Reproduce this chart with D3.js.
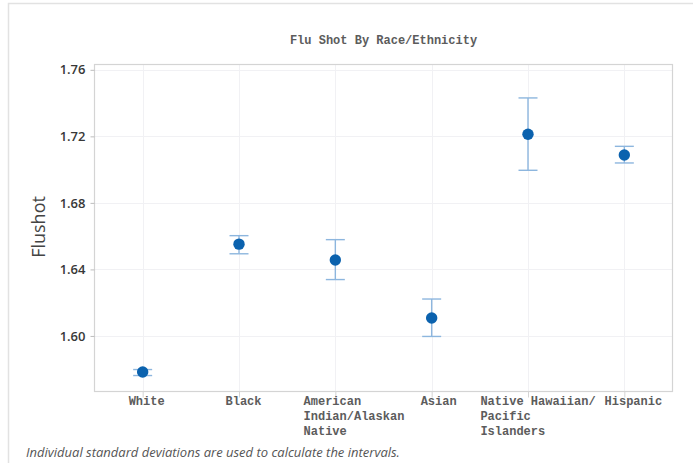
<!DOCTYPE html>
<html>
<head>
<meta charset="utf-8">
<script src="https://cdn.jsdelivr.net/npm/d3@7/dist/d3.min.js"></script>
<style>
  html, body { margin: 0; padding: 0; background: #fff; }
  svg { display: block; }
</style>
</head>
<body>
<svg id="chart" width="693" height="463"></svg>
<script>
// Group labels (one array of lines per group)
const categories = ["White", "Black", "American Indian/Alaskan Native", "Asian", "Native Hawaiian/ Pacific Islanders", "Hispanic"];
const labelLines = [["White"], ["Black"], ["American", "Indian/Alaskan", "Native"], ["Asian"], ["Native Hawaiian/", "Pacific", "Islanders"], ["Hispanic"]];
// Group means and interval bounds
const means = [1.5783, 1.6552, 1.6457, 1.6108, 1.7213, 1.7088];
const lower = [1.5762, 1.6494, 1.6339, 1.5997, 1.6996, 1.7040];
const upper = [1.5798, 1.6603, 1.6579, 1.6222, 1.7431, 1.7140];
const yTicks = [1.60, 1.64, 1.68, 1.72, 1.76];

const svg = d3.select("#chart");
const W = 693, H = 463;
const plotL = 94.5, plotR = 672.5, plotT = 64.5, plotB = 391.5;

// Outer frame (top and left edges)
svg.append("path")
  .attr("d", `M8.5,${H} L8.5,3.5 L${W},3.5`)
  .attr("fill", "none").attr("stroke", "#e2e2e2").attr("stroke-width", 1.5);

const x = d3.scalePoint().domain(categories).range([plotL, plotR]).padding(0.5);
const y = d3.scaleLinear().domain([1.5666, 1.7632]).range([plotB, plotT]);

// Gridlines
const grid = svg.append("g");
grid.selectAll("line.h").data(yTicks).join("line")
  .attr("x1", plotL).attr("x2", plotR)
  .attr("y1", d => Math.round(y(d)) + 0.5).attr("y2", d => Math.round(y(d)) + 0.5)
  .attr("stroke", "#f1f1f4").attr("stroke-width", 1);
grid.selectAll("line.v").data(categories).join("line")
  .attr("x1", d => Math.round(x(d)) + 0.5).attr("x2", d => Math.round(x(d)) + 0.5)
  .attr("y1", plotT).attr("y2", plotB)
  .attr("stroke", "#f1f1f4").attr("stroke-width", 1);

// Plot border
svg.append("rect")
  .attr("x", plotL).attr("y", plotT).attr("width", plotR - plotL).attr("height", plotB - plotT)
  .attr("fill", "none").attr("stroke", "#d4d4d4").attr("stroke-width", 1.2);

// Y axis
const yAxis = svg.append("g").attr("transform", `translate(${plotL},0)`)
  .call(d3.axisLeft(y).tickValues(yTicks).tickFormat(d3.format(".2f")).tickSize(4).tickPadding(5));
yAxis.select(".domain").remove();
yAxis.selectAll(".tick line").attr("stroke", "#bdbdbd");
yAxis.selectAll(".tick text")
  .attr("fill", "#383838").attr("font-family", "'Open Sans', sans-serif")
  .attr("font-size", 13).attr("font-weight", 600);

// X axis
const xAxis = svg.append("g").attr("transform", `translate(0,${plotB})`)
  .call(d3.axisBottom(x).tickSize(6).tickFormat(""));
xAxis.select(".domain").remove();
xAxis.selectAll(".tick line").attr("stroke", "#d4d4d4");

// Multi-line category labels: first line centred (with a small per-label nudge),
// following lines aligned to its start
const charW = 7.2;
const labelNudge = [4, 4.5, -3, 7, 10, 9];
svg.append("g").selectAll("text").data(categories).join("text")
  .attr("font-family", "'Liberation Mono', 'Courier New', monospace")
  .attr("font-size", 12).attr("font-weight", "bold").attr("fill", "#5c5c5c")
  .each(function(d, i) {
    const lines = labelLines[i];
    const startX = x(d) + labelNudge[i] - lines[0].length * charW / 2;
    d3.select(this).selectAll("tspan").data(lines).join("tspan")
      .attr("x", startX)
      .attr("y", (l, j) => 405 + j * 15)
      .text(l => l);
  });

// Title
svg.append("text")
  .attr("x", (plotL + plotR) / 2).attr("y", 44)
  .attr("text-anchor", "middle")
  .attr("font-family", "'Liberation Mono', 'Courier New', monospace")
  .attr("font-size", 12).attr("font-weight", "bold").attr("fill", "#5c5c5c")
  .text("Flu Shot By Race/Ethnicity");

// Y axis title
svg.append("text")
  .attr("transform", `translate(45,227) rotate(-90)`)
  .attr("text-anchor", "middle")
  .attr("font-family", "'Open Sans', sans-serif")
  .attr("font-size", 18).attr("fill", "#444")
  .text("Flushot");

// Interval bars
const bars = svg.append("g").attr("stroke", "#8db6de").attr("stroke-width", 1.4).attr("fill", "none");
const capHalf = 9.5;
categories.forEach((c, i) => {
  const cx = x(c);
  bars.append("line").attr("x1", cx).attr("x2", cx).attr("y1", y(lower[i])).attr("y2", y(upper[i]));
  bars.append("line").attr("x1", cx - capHalf).attr("x2", cx + capHalf).attr("y1", y(upper[i])).attr("y2", y(upper[i]));
  bars.append("line").attr("x1", cx - capHalf).attr("x2", cx + capHalf).attr("y1", y(lower[i])).attr("y2", y(lower[i]));
});

// Mean markers
svg.append("g").selectAll("circle").data(categories).join("circle")
  .attr("cx", d => x(d))
  .attr("cy", (d, i) => y(means[i]))
  .attr("r", 5.7)
  .attr("fill", "#0b62ae");

// Footnote
svg.append("text")
  .attr("x", 26).attr("y", 457)
  .attr("font-family", "'Open Sans', sans-serif")
  .attr("font-style", "italic").attr("font-size", 13).attr("fill", "#555")
  .text("Individual standard deviations are used to calculate the intervals.");
</script>
</body>
</html>
